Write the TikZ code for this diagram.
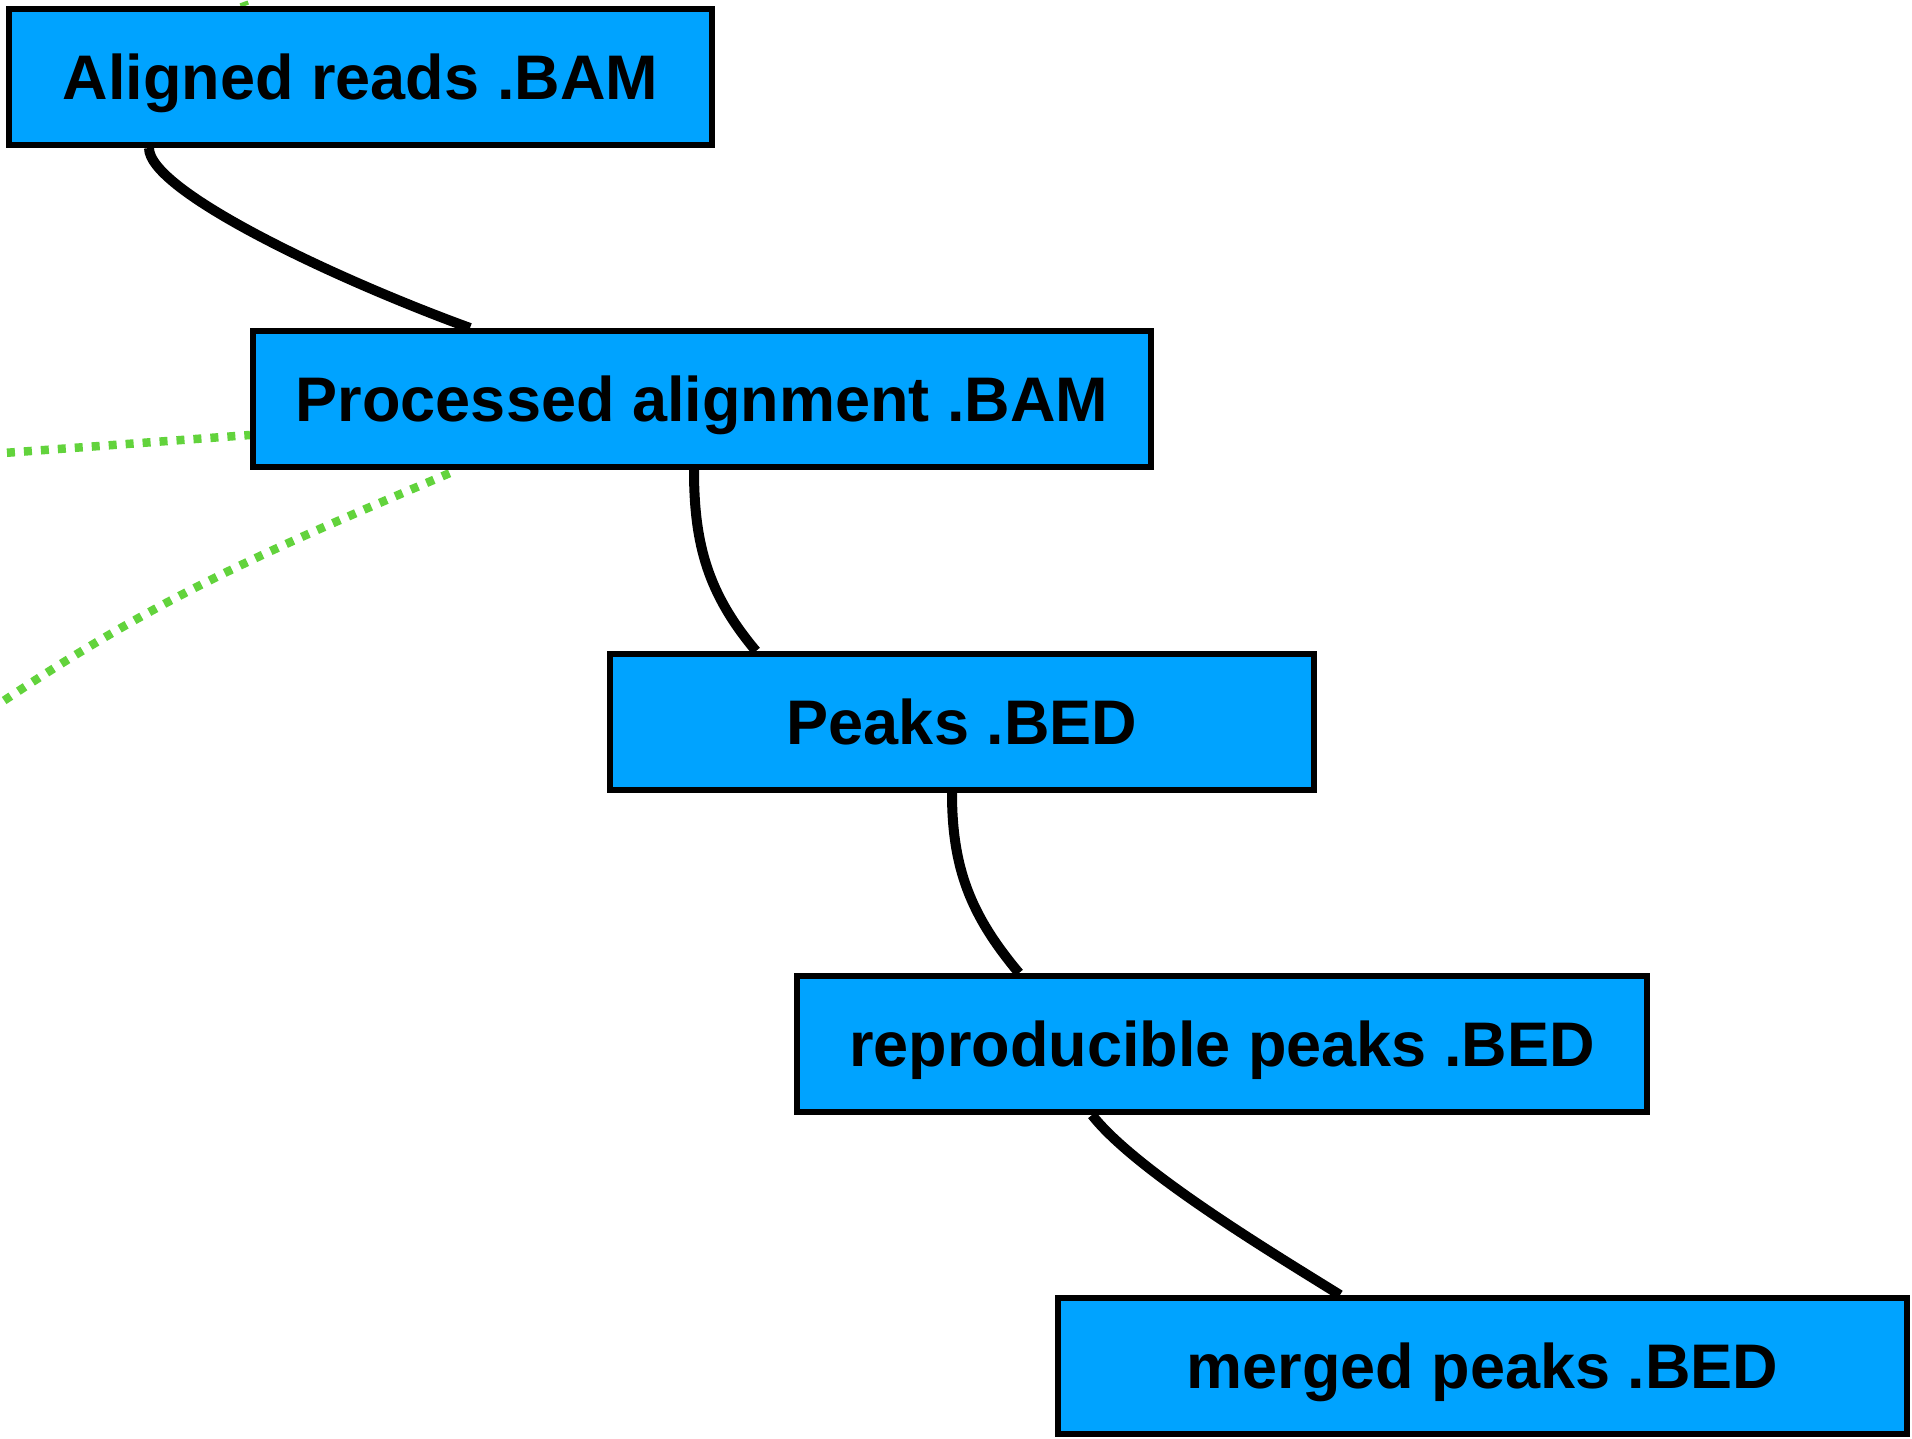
\documentclass[tikz,border=0pt]{standalone}
\usepackage{fontspec}
\setmainfont{Liberation Sans}
\usetikzlibrary{backgrounds}
\definecolor{boxblue}{RGB}{0,163,255}
\definecolor{linkgreen}{RGB}{98,211,60}
\begin{document}
\begin{tikzpicture}[x=1pt,y=1pt,
  filebox/.style={draw=black, line width=6pt, fill=boxblue,
    font=\fontsize{63}{70}\selectfont\bfseries,
    text height=45pt, text depth=0pt, inner sep=0pt, minimum height=136pt},
  flow/.style={draw=black, line width=10pt},
  aux/.style={draw=linkgreen, line width=8.5pt, dash pattern=on 8pt off 9pt}]
\useasboundingbox (0,0) rectangle (1912,-1439);

% file boxes
\node[filebox, minimum width=703pt] (b1) at (360.5,-77)   {Aligned reads .BAM};
\node[filebox, minimum width=898pt] (b2) at (702,-399)    {Processed alignment .BAM};
\node[filebox, minimum width=704pt] (b3) at (962,-722)    {Peaks .BED};
\node[filebox, minimum width=850pt] (b4) at (1222,-1044)  {reproducible peaks .BED};
\node[filebox, minimum width=849pt] (b5) at (1482.5,-1366) {merged peaks .BED};

% loose ends of the side links
\coordinate (g1) at (-10,-454);
\coordinate (g2) at (-10,-710);
\coordinate (g3) at (232,30);

\begin{scope}[on background layer]
  % processing chain
  \draw[flow] ([xshift=143pt]b1.south west) to[out=-90,in=160,out looseness=0.3,in looseness=1] ([xshift=220pt]b2.north west);
  \draw[flow] ([xshift=444pt]b2.south west) to[out=-90,in=130] ([xshift=149pt]b3.north west);
  \draw[flow] ([xshift=345pt]b3.south west) to[out=-90,in=130] ([xshift=225pt]b4.north west);
  \draw[flow] ([xshift=298pt]b4.south west) to[out=-52,in=148,looseness=0.6] ([xshift=285pt]b5.north west);

  % side links
  \draw[aux] (g1) -- ([yshift=-36pt]b2.west);
  \draw[aux] (g2) to[out=34,in=-157] ([xshift=207pt]b2.south west);
  \draw[aux] (g3) -- ([xshift=239pt]b1.north west);
\end{scope}
\end{tikzpicture}
\end{document}
